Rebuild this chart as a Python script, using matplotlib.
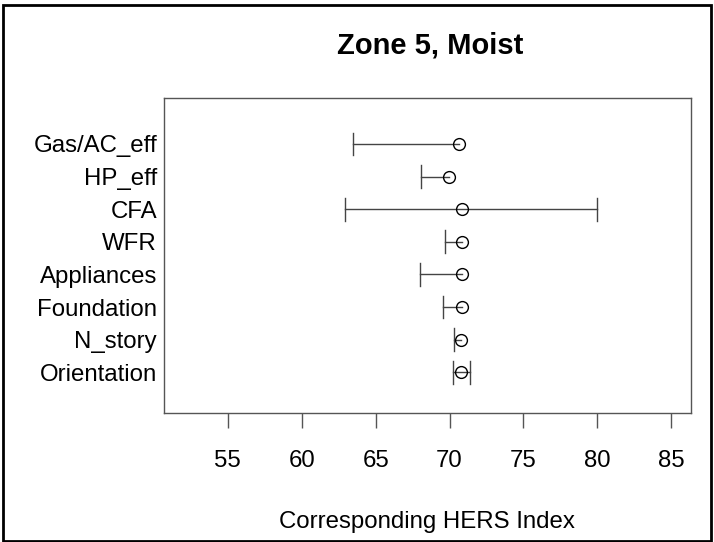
import matplotlib
matplotlib.use("Agg")
import matplotlib.pyplot as plt
from matplotlib.patches import Rectangle

plt.rcParams['font.family'] = ['Liberation Sans', 'DejaVu Sans']

categories = ["Orientation", "N_story", "Foundation", "Appliances", "WFR", "CFA", "HP_eff", "Gas/AC_eff"]
center = [70.77, 70.80, 70.84, 70.84, 70.84, 70.84, 69.96, 70.66]
low = [70.21, 70.28, 69.56, 68.02, 69.68, 62.96, 68.09, 63.49]
high = [71.36, 70.80, 70.84, 70.84, 70.84, 80.01, 69.96, 70.66]
xticks = [55, 60, 65, 70, 75, 80, 85]

fig = plt.figure(figsize=(7.14, 5.42), dpi=100)
L, R, T, B = 164, 690.7, 98.3, 413
ax = fig.add_axes([L/714, 1-B/542, (R-L)/714, (B-T)/542])

ypos = list(range(1, len(categories) + 1))
linecol = '#444444'
cap = 0.35
for y, c, lo, hi in zip(ypos, center, low, high):
    ax.plot([lo, hi], [y, y], color=linecol, lw=1.0, zorder=2)
    if lo < c:
        ax.plot([lo, lo], [y - cap, y + cap], color=linecol, lw=1.0, zorder=2)
    if hi > c:
        ax.plot([hi, hi], [y - cap, y + cap], color=linecol, lw=1.0, zorder=2)
ax.plot(center, ypos, linestyle='none', marker='o', markersize=8.5,
        markerfacecolor='none', markeredgecolor='black', markeredgewidth=1.0, zorder=3)

ax.set_xlim(50.68, 86.32)
ax.set_ylim(-0.25, 9.4)
ax.set_xticks(xticks)
ax.set_xticklabels([str(t) for t in xticks], fontsize=17.3)
ax.set_yticks(ypos)
ax.set_yticklabels(categories, fontsize=17.3)
ax.tick_params(axis='y', length=0, pad=5)
ax.tick_params(axis='x', length=10.8, width=1, color='#555555', pad=16)
for s in ax.spines.values():
    s.set_color('#555555')
    s.set_linewidth(1.0)
ax.set_xlabel("Corresponding HERS Index", fontsize=17.3, labelpad=28)
fig.text(430/714, 1-45/542, "Zone 5, Moist", fontsize=21, fontweight='bold',
         ha='center', va='center')

fig.patches.append(Rectangle((3/714, 1/542), 708/714, 536/542, transform=fig.transFigure,
                             fill=False, edgecolor='black', linewidth=2))

fig.savefig("out.png", dpi=100)
